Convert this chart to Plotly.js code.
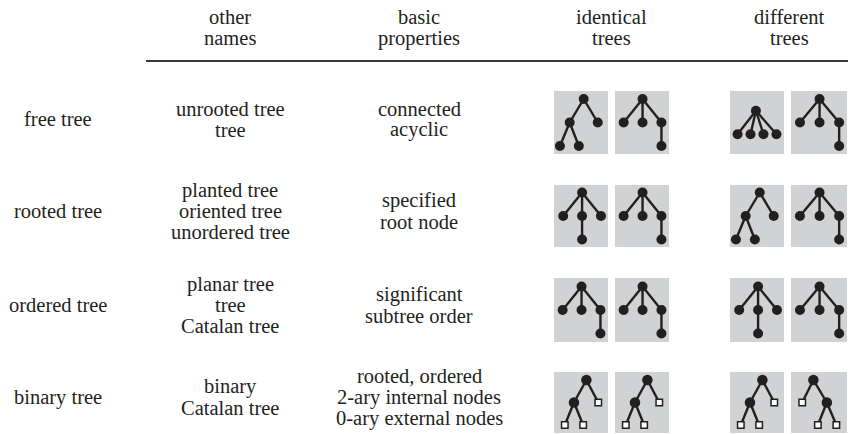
<!DOCTYPE html>
<html>
<head>
<meta charset="utf-8">
<script src="https://cdn.plot.ly/plotly-3.0.1.min.js"></script>
<style>html,body{margin:0;padding:0;background:#fff;}#chart{width:848px;height:434px;}</style>
</head>
<body>
<div id="chart"></div>
<script>
// ---------- data ----------
var headers = [["other", "names"], ["basic", "properties"], ["identical", "trees"], ["different", "trees"]];
var treeTypes = ["free tree", "rooted tree", "ordered tree", "binary tree"];
var otherNames = [
  ["unrooted tree", "tree"],
  ["planted tree", "oriented tree", "unordered tree"],
  ["planar tree", "tree", "Catalan tree"],
  ["binary", "Catalan tree"]
];
var basicProps = [
  ["connected", "acyclic"],
  ["specified", "root node"],
  ["significant", "subtree order"],
  ["rooted, ordered", "2-ary internal nodes", "0-ary external nodes"]
];
// tree shapes: horizontal position (fraction of box width), depth level, parent index, node kind (n = node, i = internal, e = external)
var treeShapes = {
  A: {x: [0.55, 0.29, 0.81, 0.11, 0.46], depth: [0, 1, 1, 2, 2], parent: [-1, 0, 0, 1, 1], kind: ["n","n","n","n","n"]},
  B: {x: [0.51, 0.16, 0.51, 0.86, 0.86], depth: [0, 1, 1, 1, 2], parent: [-1, 0, 0, 0, 3], kind: ["n","n","n","n","n"]},
  C: {x: [0.48, 0.14, 0.38, 0.62, 0.86], depth: [0, 1, 1, 1, 1], parent: [-1, 0, 0, 0, 0], kind: ["n","n","n","n","n"]},
  D: {x: [0.52, 0.17, 0.52, 0.87, 0.52], depth: [0, 1, 1, 1, 2], parent: [-1, 0, 0, 0, 2], kind: ["n","n","n","n","n"]},
  E: {x: [0.60, 0.37, 0.82, 0.20, 0.54], depth: [0, 1, 1, 2, 2], parent: [-1, 0, 0, 1, 1], kind: ["i","i","e","e","e"]},
  F: {x: [0.40, 0.20, 0.64, 0.48, 0.81], depth: [0, 1, 1, 2, 2], parent: [-1, 0, 0, 2, 2], kind: ["i","e","i","e","e"]}
};
// which tree is drawn in each cell: [identical, identical, different, different]
var identicalTrees = [["A", "B"], ["D", "B"], ["B", "B"], ["E", "E"]];
var differentTrees = [["C", "B"], ["A", "B"], ["D", "B"], ["E", "F"]];

// ---------- layout geometry ----------
var W = 848, H = 434;
var ink = "#231f20";
var textColor = "#231f20";
var boxFill = "#d1d2d4";
var fontFam = "'Liberation Serif', 'Times New Roman', Times, serif";
var fontSize = 20.5;
var lineGap = 21;
var colX = [58, 230, 419, 611, 789];
var headerBase = [24, 45];
var rowBase = [126, 218, 312, 404];
var baseToMid = 6.9;
var boxLeft = [554, 615, 730, 791];
var boxW = [54, 54, 54, 56];
var boxTop = [91, 185, 278, 372];
var boxH = [63, 62, 64, 61];
var levelGap = [23.5, 23.5, 23.5, 22.5];

var annotations = [];
function addText(x, yBase, s) {
  annotations.push({
    x: x, y: yBase - baseToMid, xref: "x", yref: "y", text: s, showarrow: false,
    xanchor: "center", yanchor: "middle",
    font: {family: fontFam, size: fontSize, color: textColor}
  });
}
headers.forEach(function (h, c) {
  h.forEach(function (s, i) { addText(colX[c + 1], headerBase[i], s); });
});
function addCell(lines, x, base) {
  var n = lines.length;
  lines.forEach(function (s, i) { addText(x, base + (i - (n - 1) / 2) * lineGap, s); });
}
treeTypes.forEach(function (t, r) {
  addCell([t], colX[0], rowBase[r]);
  addCell(otherNames[r], colX[1], rowBase[r]);
  addCell(basicProps[r], colX[2], rowBase[r]);
});

var shapes = [{
  type: "line", xref: "x", yref: "y", x0: 146, x1: 848, y0: 61, y1: 61,
  line: {color: "#3a3a3a", width: 2}
}];

var edgeX = [], edgeY = [];
var dotX = [], dotY = [], intX = [], intY = [], extX = [], extY = [];

function drawTree(key, r, c) {
  var t = treeShapes[key];
  var left = boxLeft[c], top = boxTop[r], w = boxW[c], h = boxH[r];
  shapes.push({type: "rect", xref: "x", yref: "y", x0: left, x1: left + w, y0: top, y1: top + h,
    fillcolor: boxFill, line: {width: 0}, layer: "below"});
  var maxD = Math.max.apply(null, t.depth);
  var off = (h - levelGap[r] * maxD) / 2;
  var px = t.x.map(function (v) { return left + v * w; });
  var py = t.depth.map(function (d) { return top + off + d * levelGap[r]; });
  t.parent.forEach(function (p, i) {
    if (p >= 0) { edgeX.push(px[p], px[i], null); edgeY.push(py[p], py[i], null); }
  });
  t.kind.forEach(function (k, i) {
    if (k === "n") { dotX.push(px[i]); dotY.push(py[i]); }
    else if (k === "i") { intX.push(px[i]); intY.push(py[i]); }
    else { extX.push(px[i]); extY.push(py[i]); }
  });
}
for (var r = 0; r < 4; r++) {
  drawTree(identicalTrees[r][0], r, 0);
  drawTree(identicalTrees[r][1], r, 1);
  drawTree(differentTrees[r][0], r, 2);
  drawTree(differentTrees[r][1], r, 3);
}

var traces = [
  {x: edgeX, y: edgeY, mode: "lines", type: "scatter", line: {color: ink, width: 2.4}, hoverinfo: "skip"},
  {x: dotX, y: dotY, mode: "markers", type: "scatter", marker: {symbol: "circle", size: 10, color: ink}, hoverinfo: "skip"},
  {x: intX, y: intY, mode: "markers", type: "scatter", marker: {symbol: "circle", size: 10.5, color: ink}, hoverinfo: "skip"},
  {x: extX, y: extY, mode: "markers", type: "scatter", marker: {symbol: "square", size: 6.5, color: "#ffffff", line: {color: ink, width: 1.5}}, hoverinfo: "skip"}
];

var layout = {
  width: W, height: H,
  margin: {l: 0, r: 0, t: 0, b: 0, pad: 0},
  paper_bgcolor: "#ffffff", plot_bgcolor: "#ffffff",
  showlegend: false,
  font: {family: fontFam},
  xaxis: {range: [0, W], visible: false, fixedrange: true},
  yaxis: {range: [H, 0], visible: false, fixedrange: true},
  shapes: shapes,
  annotations: annotations
};
Plotly.newPlot("chart", traces, layout, {staticPlot: true, displayModeBar: false});
</script>
</body>
</html>
